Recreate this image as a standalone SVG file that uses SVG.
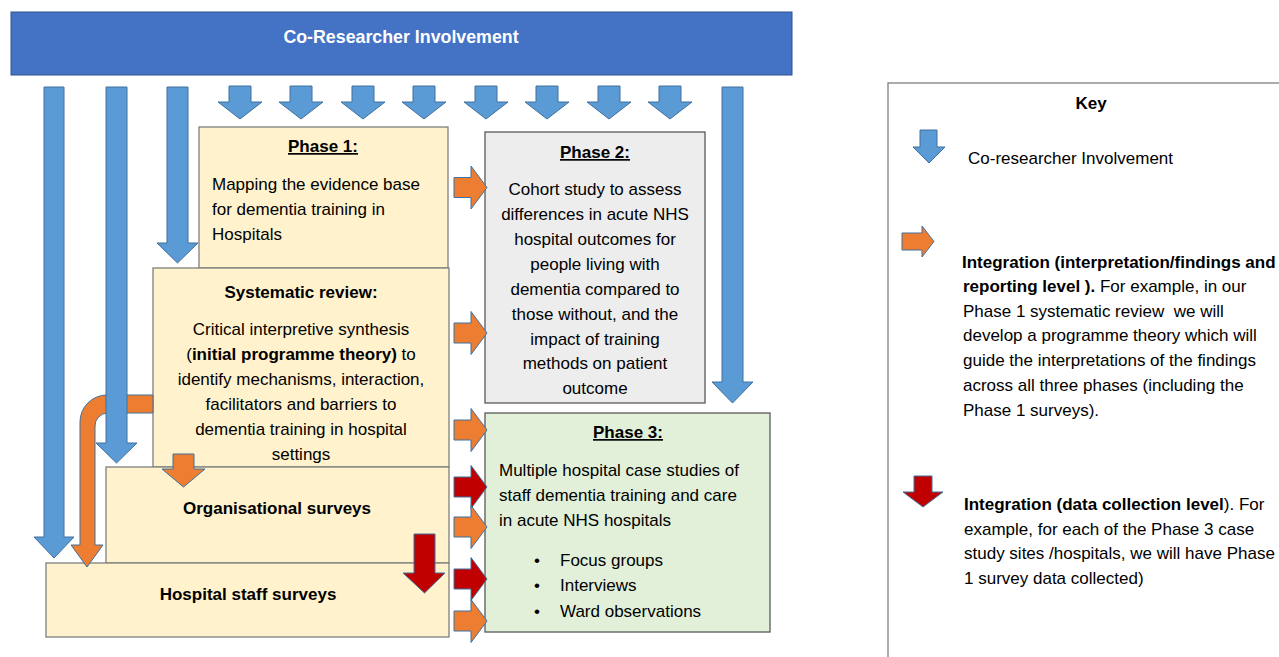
<svg xmlns="http://www.w3.org/2000/svg" xmlns:xlink="http://www.w3.org/1999/xlink" width="1279" height="657" viewBox="0 0 1279 657">
<style>
text{font-family:"Liberation Sans",Arial,sans-serif;font-size:17px;fill:#000}
.b{font-weight:bold}
.c{text-anchor:middle}
.u{text-decoration:underline}
.ybox{fill:#FFF2CC;stroke:#7F7F7F;stroke-width:1.3}
.blue{fill:#5B9BD5;stroke:#41719C;stroke-width:1}
.orange{fill:#ED7D31;stroke:#41719C;stroke-width:1}
.red{fill:#C00000;stroke:#41719C;stroke-width:1}
</style>
<defs>
<path id="dnSmall" d="M -11 86 H 11 V 102 H 22 L 0 119 L -22 102 H -11 Z"/>
<path id="rt" d="M 454 -10 H 471 V -21.5 L 487 0 L 471 21.5 V 10 H 454 Z"/>
</defs>
<rect width="1279" height="657" fill="#fff"/>

<g id="banner">
<rect x="11" y="12" width="781" height="63" fill="#4472C4" stroke="#2F528F" stroke-width="1"/>
<text x="401" y="43" class="b c" style="fill:#fff;font-size:17.8px">Co-Researcher Involvement</text>
</g>

<g id="phase1">
<rect class="ybox" x="199" y="127" width="249" height="141"/>
<text x="323" y="152" class="b c u">Phase 1:</text>
<text x="212" y="190">Mapping the evidence base</text>
<text x="212" y="215">for dementia training in</text>
<text x="212" y="240">Hospitals</text>
</g>

<g id="systematic-review">
<rect class="ybox" x="153" y="268" width="296" height="199"/>
<text x="301" y="298" class="b c">Systematic review:</text>
<text x="301" y="335" class="c">Critical interpretive synthesis</text>
<text x="301" y="360" class="c">(<tspan class="b">initial programme theory)</tspan> to</text>
<text x="301" y="385" class="c">identify mechanisms, interaction,</text>
<text x="301" y="410" class="c">facilitators and barriers to</text>
<text x="301" y="435" class="c">dementia training in hospital</text>
<text x="301" y="460" class="c">settings</text>
</g>

<g id="organisational-surveys">
<rect class="ybox" x="106" y="467" width="343" height="96"/>
<text x="277" y="514" class="b c">Organisational surveys</text>
</g>

<g id="hospital-staff-surveys">
<rect class="ybox" x="46" y="563" width="403" height="74"/>
<text x="248" y="600" class="b c">Hospital staff surveys</text>
</g>

<g id="phase2">
<rect x="485" y="132" width="220" height="271" fill="#EDEDED" stroke="#595959" stroke-width="1.3"/>
<text x="595" y="158" class="b c u">Phase 2:</text>
<text x="595" y="195" class="c">Cohort study to assess</text>
<text x="595" y="220" class="c">differences in acute NHS</text>
<text x="595" y="245" class="c">hospital outcomes for</text>
<text x="595" y="270" class="c">people living with</text>
<text x="595" y="295" class="c">dementia compared to</text>
<text x="595" y="320" class="c">those without, and the</text>
<text x="595" y="345" class="c">impact of training</text>
<text x="595" y="369" class="c">methods on patient</text>
<text x="595" y="394" class="c">outcome</text>
</g>

<g id="phase3">
<rect x="485" y="413" width="285" height="219" fill="#E2F0D9" stroke="#595959" stroke-width="1.3"/>
<text x="628" y="438" class="b c u">Phase 3:</text>
<text x="499" y="476">Multiple hospital case studies of</text>
<text x="499" y="501">staff dementia training and care</text>
<text x="499" y="526">in acute NHS hospitals</text>
<text x="537" y="566" class="c">•</text>
<text x="560" y="566">Focus groups</text>
<text x="537" y="591" class="c">•</text>
<text x="560" y="591">Interviews</text>
<text x="537" y="617" class="c">•</text>
<text x="560" y="617">Ward observations</text>
</g>

<g id="connectors">
<!-- bent orange arrow from systematic review to hospital staff surveys -->
<path class="orange" d="M 153 395 L 107 395 A 27 27 0 0 0 80 422 L 80 545 L 71 545 L 87 567 L 103 545 L 95 545 L 95 427 A 13 13 0 0 1 108 413 L 153 413 Z"/>
<!-- long blue arrows -->
<path class="blue" d="M 44 87 H 64 V 537 H 74 L 54 558 L 34 537 H 44 Z"/>
<path class="blue" d="M 106 87 H 127 V 443 H 137 L 116.5 463 L 96 443 H 106 Z"/>
<path class="blue" d="M 167 87 H 188 V 243 H 198 L 177.5 263 L 157 243 H 167 Z"/>
<path class="blue" d="M 722 87 H 743 V 382 H 753 L 732.5 403 L 712 382 H 722 Z"/>
<!-- short blue arrows -->
<use xlink:href="#dnSmall" href="#dnSmall" class="blue" x="240"/>
<use xlink:href="#dnSmall" href="#dnSmall" class="blue" x="301"/>
<use xlink:href="#dnSmall" href="#dnSmall" class="blue" x="363"/>
<use xlink:href="#dnSmall" href="#dnSmall" class="blue" x="424"/>
<use xlink:href="#dnSmall" href="#dnSmall" class="blue" x="486"/>
<use xlink:href="#dnSmall" href="#dnSmall" class="blue" x="547"/>
<use xlink:href="#dnSmall" href="#dnSmall" class="blue" x="609"/>
<use xlink:href="#dnSmall" href="#dnSmall" class="blue" x="670"/>
<!-- right-pointing integration arrows -->
<use xlink:href="#rt" href="#rt" class="orange" y="187.5"/>
<use xlink:href="#rt" href="#rt" class="orange" y="333"/>
<use xlink:href="#rt" href="#rt" class="orange" y="430"/>
<use xlink:href="#rt" href="#rt" class="red" y="487"/>
<use xlink:href="#rt" href="#rt" class="orange" y="527"/>
<use xlink:href="#rt" href="#rt" class="red" y="579"/>
<use xlink:href="#rt" href="#rt" class="orange" y="621"/>
<!-- down arrows inside stack -->
<path class="orange" d="M 173 454 H 194 V 469 H 205 L 183.5 487 L 162 469 H 173 Z"/>
<path class="red" d="M 414 534 H 435 V 573 H 445 L 424.5 593 L 403 573 H 414 Z"/>
</g>

<g id="key">
<rect x="888" y="83" width="420" height="600" fill="#fff" stroke="#7F7F7F" stroke-width="1.3"/>
<text x="1091" y="109" class="b c">Key</text>
<path class="blue" d="M 920 130 H 937 V 147 H 945 L 929 163 L 913 147 H 920 Z"/>
<text x="968" y="164">Co-researcher Involvement</text>
<path class="orange" d="M 902 233 H 922 V 226 L 934 241.5 L 922 257 V 250 H 902 Z"/>
<text x="962" y="268" class="b">Integration (interpretation/findings and</text>
<text x="963" y="292"><tspan class="b">reporting level ).</tspan> For example, in our</text>
<text x="963" y="317" xml:space="preserve">Phase 1 systematic review  we will</text>
<text x="963" y="341">develop a programme theory which will</text>
<text x="963" y="366">guide the interpretations of the findings</text>
<text x="963" y="391">across all three phases (including the</text>
<text x="963" y="416">Phase 1 surveys).</text>
<path class="red" d="M 914 476 H 932 V 492 H 943 L 923 507 L 903 492 H 914 Z"/>
<text x="964" y="510"><tspan class="b">Integration (data collection level</tspan>). For</text>
<text x="964" y="535">example, for each of the Phase 3 case</text>
<text x="964" y="559">study sites /hospitals, we will have Phase</text>
<text x="964" y="584">1 survey data collected)</text>
</g>
</svg>
